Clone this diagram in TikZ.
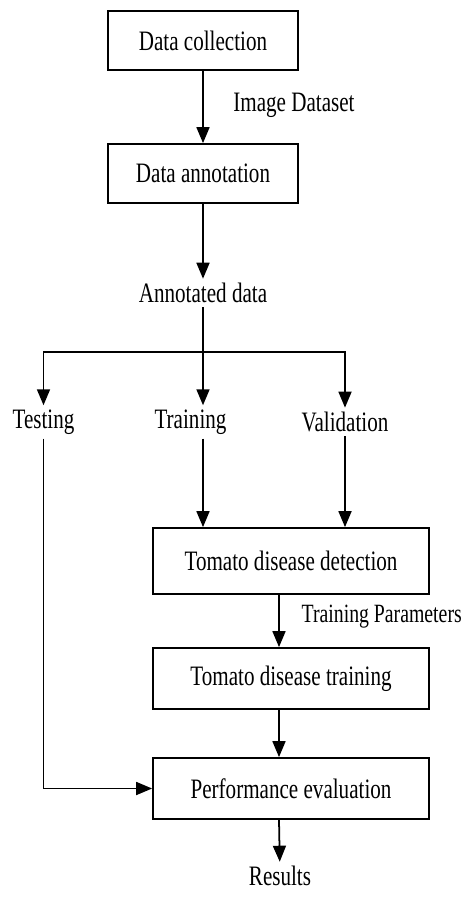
\documentclass[tikz,border=0pt]{standalone}
\usepackage{fontspec}
\setmainfont{Liberation Serif}[FakeStretch=0.75]
\usetikzlibrary{arrows.meta}

\begin{document}
\begin{tikzpicture}[
    font=\fontsize{16}{19}\selectfont,
    line width=1pt,
    >={Triangle[length=0.32cm,width=0.26cm]},
    box/.style={draw, line width=1pt, minimum width=3.8cm, minimum height=1.18cm},
    widebox/.style={box, minimum width=5.52cm, minimum height=1.22cm},
    lbl/.style={inner sep=2pt}
]
\useasboundingbox (0,0) rectangle (9.5,-18.08);

\node[box] (dc) at (4.06,-0.81) {Data collection};
\node[box] (da) at (4.06,-3.47) {Data annotation};
\node[lbl] (ad) at (4.06,-5.86) {Annotated data};
\node[lbl, anchor=west] (imgds) at (4.58,-2.1) {Image Dataset};

\draw[->] (dc) -- (da);
\draw[->] (da) -- (ad);

\coordinate (split) at (4.06,-7.04);
\foreach \x/\name/\txt in {0.87/test/Testing, 3.81/train/Training, 6.9/valid/Validation} {
    \node[lbl] (\name) at (\x,-8.44) {\txt};
}

\draw (ad) -- (split);
\draw[->] (split) -| (test);
\draw[->] (split) -- (split |- train.north);
\draw[->] (split) -| (valid);

\node[widebox, minimum height=1.32cm] (det) at (5.82,-11.22) {Tomato disease detection};
\node[widebox] (trn) at (5.82,-13.57) {Tomato disease training};
\node[widebox] (perf) at (5.82,-15.77) {Performance evaluation};
\node[lbl] (res) at (5.6,-17.52) {Results};
\node[lbl, anchor=west, inner sep=1pt, font=\fontsize{15}{18}\selectfont] (tparam) at (5.98,-12.34) {Training Parameters};

\draw[->] (train.south -| split) -- (split |- det.north);
\draw[->] (valid) -- (valid |- det.north);
\draw[->] ([xshift=-0.24cm]det.south) -- ([xshift=-0.24cm]trn.north);
\draw[->] ([xshift=-0.24cm]trn.south) -- ([xshift=-0.24cm]perf.north);
\draw[->] ([xshift=-0.24cm]perf.south) -- (res);
\draw[->] (test) |- (perf);

\end{tikzpicture}
\end{document}
